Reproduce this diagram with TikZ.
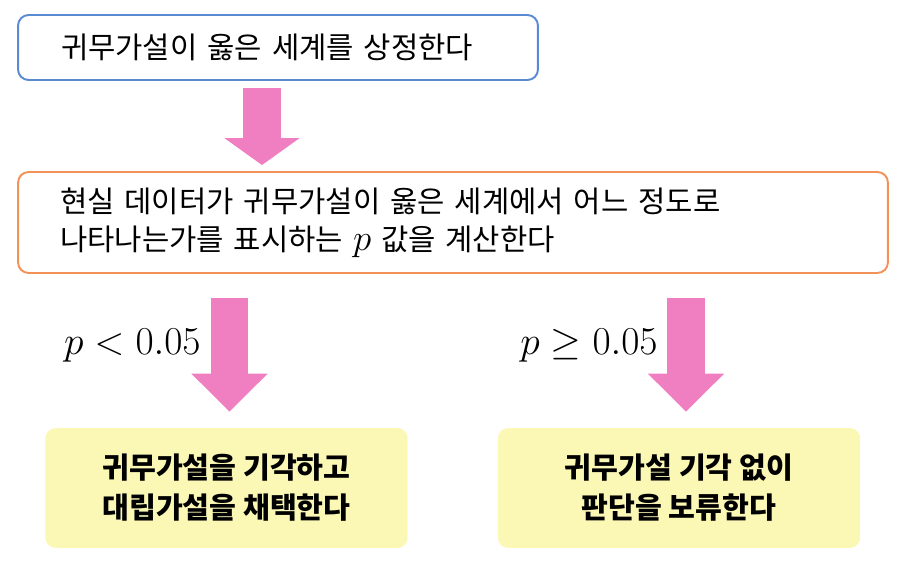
\documentclass[tikz,border=0pt]{standalone}
\usepackage{fix-cm}
\usepackage{fontspec}
\newfontfamily\kr{Noto Sans CJK KR}
\usetikzlibrary{arrows.meta,positioning,calc}
\definecolor{bluec}{HTML}{5A8AD2}
\definecolor{orangec}{HTML}{F29257}
\definecolor{pinkc}{HTML}{F07FC2}
\definecolor{yelbg}{HTML}{FBF8B6}
\tikzset{
  txt/.style={font=\kr\fontsize{16.9}{21.5}\selectfont},
  topbox/.style={txt,draw=bluec,line width=1.1pt,rounded corners=6pt,fill=white,align=left,
    minimum width=10.4cm,minimum height=1.3cm,text width=8.68cm,inner xsep=0.86cm},
  midbox/.style={txt,draw=orangec,line width=1.1pt,rounded corners=6pt,fill=white,align=left,
    minimum width=17.4cm,minimum height=2.02cm,text width=15.72cm,inner xsep=0.84cm},
  endbox/.style={font=\kr\bfseries\fontsize{16.6}{22.7}\selectfont,fill=yelbg,rounded corners=6pt,
    align=center,minimum width=7.25cm,minimum height=2.4cm},
  cond/.style={font=\fontsize{22.5}{26}\selectfont,inner sep=0pt},
  bigarr/.style={pinkc,line width=0.76cm,-{Triangle[length=#1,width=1.48cm]}}
}
\begin{document}
\begin{tikzpicture}[x=0.02cm,y=-0.02cm]
\useasboundingbox (0,0) rectangle (907,574);
% boxes
\node[topbox] (hyp) at (278,47.5) {귀무가설이 옳은 세계를 상정한다};
\node[midbox] (pval) at (453,222.5) {현실 데이터가 귀무가설이 옳은 세계에서 어느 정도로\\나타나는가를 표시하는 {\fontsize{21}{21.5}\selectfont$p$} 값을 계산한다};
\node[endbox] (rej) at (226.5,488) {귀무가설을 기각하고\\대립가설을 채택한다};
\node[endbox] (hold) at (679,488) {귀무가설 기각 없이\\판단을 보류한다};
% arrows
\draw[bigarr=0.54cm,shorten <=0.14cm,shorten >=0.12cm] ([xshift=-0.32cm]hyp.south) -- ([xshift=-0.32cm]hyp.south |- pval.north);
\draw[bigarr=0.76cm,shorten <=0.48cm,shorten >=0.32cm] ([xshift=0.06cm]rej.north |- pval.south) -- ([xshift=0.06cm]rej.north);
\draw[bigarr=0.76cm,shorten <=0.48cm,shorten >=0.32cm] ([xshift=0.14cm]hold.north |- pval.south) -- ([xshift=0.14cm]hold.north);
% conditions
\node[cond,anchor=east] (plow) at (201,346) {$p<0.05$};
\node[cond,anchor=east] (phigh) at (658,346) {$p\geq0.05$};
\end{tikzpicture}
\end{document}
